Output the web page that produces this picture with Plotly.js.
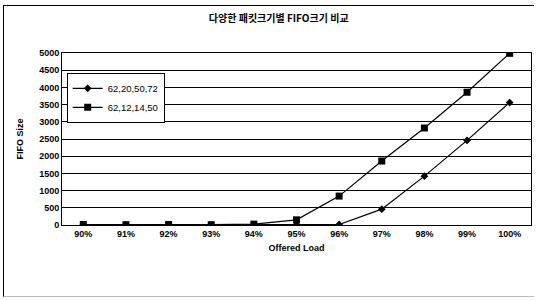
<!DOCTYPE html>
<html><head><meta charset="utf-8">
<script src="https://cdn.plot.ly/plotly-3.0.1.min.js"></script>
<style>html,body{margin:0;padding:0;background:#fff}
#wrap{position:relative;width:536px;height:300px}
#chart{width:536px;height:300px}
#frame{position:absolute;left:3px;top:5px;width:530px;height:290px;border-left:1px solid #000;border-top:1px solid #000;border-bottom:1px solid #bbb;pointer-events:none}
</style>
</head><body><div id="wrap"><div id="chart"></div><div id="frame"></div></div>
<script>
const categories = ["90%","91%","92%","93%","94%","95%","96%","97%","98%","99%","100%"];
const seriesNames = ["62,20,50,72","62,12,14,50"];
const seriesA = [5, 3, 5, 3, 5, 10, 15, 460, 1420, 2460, 3560];
const seriesB = [15, 8, 15, 8, 25, 150, 840, 1860, 2820, 3860, 4990];
const yTicks = [0,500,1000,1500,2000,2500,3000,3500,4000,4500,5000];

const font = {family: "Liberation Sans, Arial, sans-serif", size: 9, color: "#000"};
const traces = [
  {x: categories, y: seriesA, name: seriesNames[0], type: "scatter", mode: "lines+markers",
   line: {color: "#000", width: 1.2}, marker: {symbol: "diamond", size: 6, color: "#000"}},
  {x: categories, y: seriesB, name: seriesNames[1], type: "scatter", mode: "lines+markers",
   line: {color: "#000", width: 1.2}, marker: {symbol: "square", size: 7, color: "#000"}}
];
const layout = {
  width: 536, height: 300,
  margin: {l: 62, r: 5, t: 53, b: 75},
  paper_bgcolor: "#fff", plot_bgcolor: "#fff",
  font: font,
  title: {text: "<b>다양한 패킷크기별 FIFO크기 비교</b>", x: 0.52, xanchor: "center", y: 0.94, yanchor: "middle",
          font: {family: "Noto Sans CJK KR, sans-serif", size: 10, color: "#000"}},
  xaxis: {type: "category", showgrid: false, showline: true, linecolor: "#000", linewidth: 1,
          ticks: "", tickfont: {family: "Liberation Sans, Arial, sans-serif", size: 9, color: "#000", weight: "bold"},
          title: {text: "<b>Offered Load</b>", standoff: 6, font: {size: 9, color: "#000"}}, mirror: true,
          range: [-0.5, 10.5]},
  yaxis: {range: [0, 5000], tickvals: yTicks, showgrid: true, gridcolor: "#000", gridwidth: 1,
          showline: true, linecolor: "#000", linewidth: 1, mirror: true, ticks: "",
          zeroline: false,
          tickfont: {family: "Liberation Sans, Arial, sans-serif", size: 9, color: "#000", weight: "bold"},
          title: {text: "<b>FIFO Size</b>", standoff: 14, font: {size: 9, color: "#000"}}},
  showlegend: true,
  legend: {x: 0.01, y: 0.885, xanchor: "left", yanchor: "top", bgcolor: "#fff", bordercolor: "#000", borderwidth: 1,
           font: {family: "Liberation Sans, Arial, sans-serif", size: 9.5, color: "#000"}, tracegroupgap: 0}
};
Plotly.newPlot("chart", traces, layout, {displayModeBar: false, staticPlot: true});
</script></body></html>
